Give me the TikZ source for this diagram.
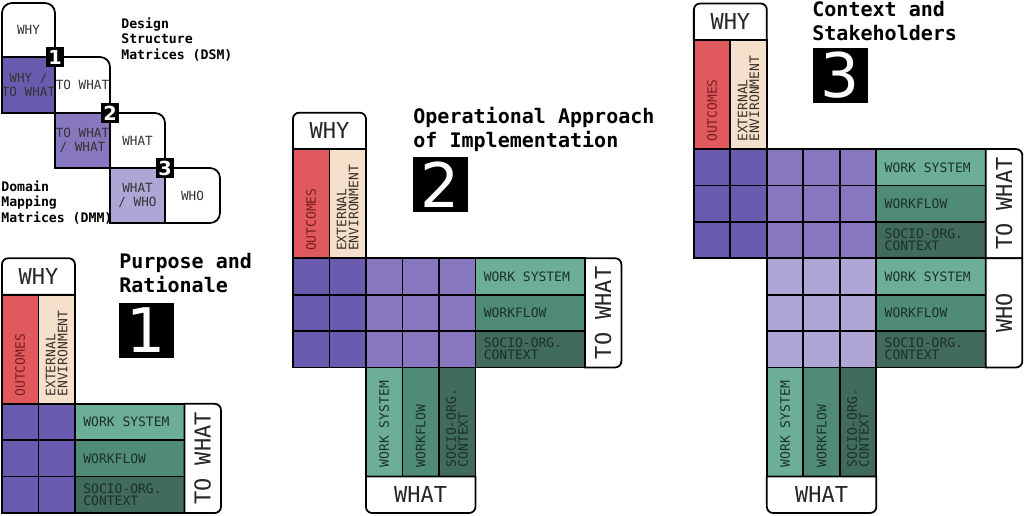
\documentclass[tikz,border=0pt]{standalone}
\usepackage{fontspec}
\setmonofont{DejaVu Sans Mono}
\newfontfamily\digitfont{DejaVu Sans}
\usepackage{tikz}
\usetikzlibrary{calc}

\definecolor{dsmdark}{HTML}{6B5BAF}
\definecolor{dsmmid}{HTML}{8777BE}
\definecolor{dmmlight}{HTML}{B0A6D6}
\definecolor{outred}{HTML}{E05A5D}
\definecolor{envbeige}{HTML}{F4E0CB}
\definecolor{wsgreen}{HTML}{6DAE97}
\definecolor{wfgreen}{HTML}{508B76}
\definecolor{scgreen}{HTML}{416B5C}
\definecolor{labtext}{HTML}{1B3128}
\definecolor{outtext}{HTML}{7C1C22}
\definecolor{envtext}{HTML}{3B3128}

\def\rr{0.17}

\tikzset{
	frame/.style={draw=black, line width=1pt},
	hlab/.style={anchor=west, inner sep=0pt, align=left, text=labtext, font=\ttfamily\fontsize{7.4}{6.8}\selectfont},
	vlab/.style={hlab, rotate=90},
	head/.style={inner sep=0pt, text=black!85, font=\ttfamily\fontsize{12.5}{14}\selectfont},
	title/.style={anchor=north west, inner sep=0pt, align=left, font=\ttfamily\bfseries\fontsize{11.4}{13.6}\selectfont},
	bignum/.style={fill=black, text=white, minimum size=1.1cm, inner sep=0pt, font=\digitfont\fontsize{35}{35}\selectfont},
	tag/.style={fill=black, text=white, minimum width=0.36cm, minimum height=0.4cm, inner sep=0pt, font=\digitfont\bfseries\fontsize{11}{11}\selectfont},
	legtxt/.style={inner sep=0pt, align=center, text=black!80, font=\ttfamily\fontsize{7.2}{8}\selectfont},
	side/.style={anchor=north west, inner sep=0pt, align=left, font=\ttfamily\bfseries\fontsize{7.5}{9}\selectfont},
}

\begin{document}
\begin{tikzpicture}[x=0.02cm, y=0.02cm]
			%%%%% START %%%%%
			\fill[white] (0,0) rectangle (1024,515);
			\useasboundingbox (0,0) rectangle (1024,515);
			
			%%%%% legend %%%%%
			\node[side] (dsmtxt) at (121,498) {Design\\Structure\\Matrices (DSM)};
			\node[side] (dmmtxt) at (1,335) {Domain\\Mapping\\Matrices (DMM)};
			
			\draw[frame, fill=white] (2,458) -- (2,502) arc (180:90:10) -- (45,512) arc (90:0:10) -- (55,458) -- cycle;
			\draw[frame, fill=dsmdark] (2,402) rectangle (55,458);
			\draw[frame, fill=white] (55,402) -- (55,458) -- (100,458) arc (90:0:10) -- (110,402) -- cycle;
			\draw[frame, fill=dsmmid] (55,347) rectangle (110,402);
			\draw[frame, fill=white] (110,347) -- (110,402) -- (155,402) arc (90:0:10) -- (165,347) -- cycle;
			\draw[frame, fill=dmmlight] (110,292) rectangle (165,347);
			\draw[frame, fill=white] (165,292) -- (165,347) -- (210,347) arc (90:0:10) -- (220,302) arc (0:-90:10) -- cycle;
			
			\node[legtxt] (lwhy) at (28.5,485) {WHY};
			\node[legtxt] (lwhytowhat) at (28.5,430) {WHY /\\TO WHAT};
			\node[legtxt] (ltowhat) at (82.5,430) {TO WHAT};
			\node[legtxt] (ltowhatwhat) at (82.5,374.5) {TO WHAT\\/ WHAT};
			\node[legtxt] (lwhat) at (137.5,374.5) {WHAT};
			\node[legtxt] (lwhatwho) at (137.5,319.5) {WHAT\\/ WHO};
			\node[legtxt] (lwho) at (192.5,319.5) {WHO};
			
			\node[tag] (tag1) at (55,458) {1};
			\node[tag] (tag2) at (110,402) {2};
			\node[tag] (tag3) at (165,347) {3};
			
			%%%%% titles %%%%%
			\node[title] (title1) at (119,262) {Purpose and\\Rationale};
			\node[bignum] (num1) at (146.5,184.5) {1};
			\node[title] (title2) at (413,408) {Operational Approach\\of Implementation};
			\node[bignum] (num2) at (440.5,330.5) {2};
			\node[title] (title3) at (812,514) {Context and\\Stakeholders};
			\node[bignum] (num3) at (840,439.5) {3};
			
			%%%%% panel 1 %%%%%
			\begin{scope}[shift={(0.04cm,0.04cm)}, x=0.73cm, y=0.728cm]
				\draw[frame, fill=white] (0,6) -- (0,7-\rr) arc (180:90:\rr) -- (2-\rr,7) arc (90:0:\rr) -- (2,6) -- cycle;
				\node[head] (why1) at (1,6.5) {WHY};
				\draw[frame, fill=outred] (0,3) rectangle (1,6);
				\draw[frame, fill=envbeige] (1,3) rectangle (2,6);
				\node[vlab, text=outtext] (out1) at (0.5,3.19) {OUTCOMES};
				\node[vlab, text=envtext] (env1) at (1.5,3.19) {EXTERNAL\\ENVIRONMENT};
				
				\foreach \i in {0,1} \foreach \j in {0,1,2} \draw[frame, fill=dsmdark] (\i,\j) rectangle ++(1,1);
				
				\draw[frame, fill=wsgreen] (2,2) rectangle (5,3);
				\draw[frame, fill=wfgreen] (2,1) rectangle (5,2);
				\draw[frame, fill=scgreen] (2,0) rectangle (5,1);
				\node[hlab] (ws1) at (2.22,2.5) {WORK SYSTEM};
				\node[hlab] (wf1) at (2.22,1.5) {WORKFLOW};
				\node[hlab] (sc1) at (2.22,0.5) {SOCIO-ORG.\\CONTEXT};
				
				\draw[frame, fill=white] (5,0) -- (6-\rr,0) arc (-90:0:\rr) -- (6,3-\rr) arc (0:90:\rr) -- (5,3) -- cycle;
				\node[head, rotate=90] (towhat1) at (5.5,1.5) {TO WHAT};
			\end{scope}
			
			%%%%% panel 2 %%%%%
			\begin{scope}[shift={(5.86cm,0.04cm)}, x=0.73cm, y=0.728cm]
				\draw[frame, fill=white] (0,10) -- (0,11-\rr) arc (180:90:\rr) -- (2-\rr,11) arc (90:0:\rr) -- (2,10) -- cycle;
				\node[head] (why2) at (1,10.5) {WHY};
				\draw[frame, fill=outred] (0,7) rectangle (1,10);
				\draw[frame, fill=envbeige] (1,7) rectangle (2,10);
				\node[vlab, text=outtext] (out2) at (0.5,7.19) {OUTCOMES};
				\node[vlab, text=envtext] (env2) at (1.5,7.19) {EXTERNAL\\ENVIRONMENT};
				
				\foreach \i in {0,1} \foreach \j in {4,5,6} \draw[frame, fill=dsmdark] (\i,\j) rectangle ++(1,1);
				\foreach \i in {2,3,4} \foreach \j in {4,5,6} \draw[frame, fill=dsmmid] (\i,\j) rectangle ++(1,1);
				
				\draw[frame, fill=wsgreen] (5,6) rectangle (8,7);
				\draw[frame, fill=wfgreen] (5,5) rectangle (8,6);
				\draw[frame, fill=scgreen] (5,4) rectangle (8,5);
				\node[hlab] (ws2) at (5.22,6.5) {WORK SYSTEM};
				\node[hlab] (wf2) at (5.22,5.5) {WORKFLOW};
				\node[hlab] (sc2) at (5.22,4.5) {SOCIO-ORG.\\CONTEXT};
				
				\draw[frame, fill=white] (8,4) -- (9-\rr,4) arc (-90:0:\rr) -- (9,7-\rr) arc (0:90:\rr) -- (8,7) -- cycle;
				\node[head, rotate=90] (towhat2) at (8.5,5.5) {TO WHAT};
				
				\draw[frame, fill=wsgreen] (2,1) rectangle (3,4);
				\draw[frame, fill=wfgreen] (3,1) rectangle (4,4);
				\draw[frame, fill=scgreen] (4,1) rectangle (5,4);
				\node[vlab] (vws2) at (2.5,1.25) {WORK SYSTEM};
				\node[vlab] (vwf2) at (3.5,1.25) {WORKFLOW};
				\node[vlab] (vsc2) at (4.5,1.25) {SOCIO-ORG.\\CONTEXT};
				
				\draw[frame, fill=white] (2,1) -- (2,\rr) arc (180:270:\rr) -- (5-\rr,0) arc (270:360:\rr) -- (5,1) -- cycle;
				\node[head] (what2) at (3.5,0.5) {WHAT};
			\end{scope}
			
			%%%%% panel 3 %%%%%
			\begin{scope}[shift={(13.88cm,0.04cm)}, x=0.73cm, y=0.728cm]
				\draw[frame, fill=white] (0,13) -- (0,14-\rr) arc (180:90:\rr) -- (2-\rr,14) arc (90:0:\rr) -- (2,13) -- cycle;
				\node[head] (why3) at (1,13.5) {WHY};
				\draw[frame, fill=outred] (0,10) rectangle (1,13);
				\draw[frame, fill=envbeige] (1,10) rectangle (2,13);
				\node[vlab, text=outtext] (out3) at (0.5,10.19) {OUTCOMES};
				\node[vlab, text=envtext] (env3) at (1.5,10.19) {EXTERNAL\\ENVIRONMENT};
				
				\foreach \i in {0,1} \foreach \j in {7,8,9} \draw[frame, fill=dsmdark] (\i,\j) rectangle ++(1,1);
				\foreach \i in {2,3,4} \foreach \j in {7,8,9} \draw[frame, fill=dsmmid] (\i,\j) rectangle ++(1,1);
				\foreach \i in {2,3,4} \foreach \j in {4,5,6} \draw[frame, fill=dmmlight] (\i,\j) rectangle ++(1,1);
				
				\draw[frame, fill=wsgreen] (5,9) rectangle (8,10);
				\draw[frame, fill=wfgreen] (5,8) rectangle (8,9);
				\draw[frame, fill=scgreen] (5,7) rectangle (8,8);
				\node[hlab] (ws3) at (5.22,9.5) {WORK SYSTEM};
				\node[hlab] (wf3) at (5.22,8.5) {WORKFLOW};
				\node[hlab] (sc3) at (5.22,7.5) {SOCIO-ORG.\\CONTEXT};
				
				\draw[frame, fill=white] (8,7) -- (9,7) -- (9,10-\rr) arc (0:90:\rr) -- (8,10) -- cycle;
				\node[head, rotate=90] (towhat3) at (8.5,8.5) {TO WHAT};
				
				\draw[frame, fill=wsgreen] (5,6) rectangle (8,7);
				\draw[frame, fill=wfgreen] (5,5) rectangle (8,6);
				\draw[frame, fill=scgreen] (5,4) rectangle (8,5);
				\node[hlab] (ws4) at (5.22,6.5) {WORK SYSTEM};
				\node[hlab] (wf4) at (5.22,5.5) {WORKFLOW};
				\node[hlab] (sc4) at (5.22,4.5) {SOCIO-ORG.\\CONTEXT};
				
				\draw[frame, fill=white] (8,4) -- (9-\rr,4) arc (-90:0:\rr) -- (9,7) -- (8,7) -- cycle;
				\node[head, rotate=90] (who3) at (8.5,5.5) {WHO};
				
				\draw[frame, fill=wsgreen] (2,1) rectangle (3,4);
				\draw[frame, fill=wfgreen] (3,1) rectangle (4,4);
				\draw[frame, fill=scgreen] (4,1) rectangle (5,4);
				\node[vlab] (vws3) at (2.5,1.25) {WORK SYSTEM};
				\node[vlab] (vwf3) at (3.5,1.25) {WORKFLOW};
				\node[vlab] (vsc3) at (4.5,1.25) {SOCIO-ORG.\\CONTEXT};
				
				\draw[frame, fill=white] (2,1) -- (2,\rr) arc (180:270:\rr) -- (5-\rr,0) arc (270:360:\rr) -- (5,1) -- cycle;
				\node[head] (what3) at (3.5,0.5) {WHAT};
			\end{scope}
			
			%%%%% END %%%%%
\end{tikzpicture}
\end{document}
